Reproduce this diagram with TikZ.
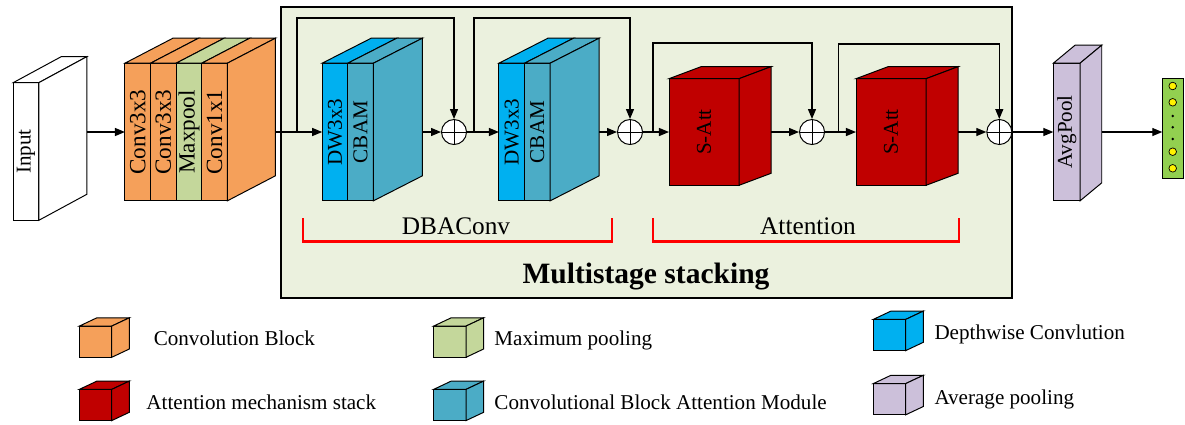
\documentclass[tikz,border=0pt]{standalone}
\usepackage{fontspec}
\setmainfont{Liberation Serif}
\usepackage{tikz}
\usetikzlibrary{arrows.meta,positioning,calc}

\definecolor{corange}{RGB}{245,160,90}
\definecolor{cgreen}{RGB}{196,215,155}
\definecolor{cblue}{RGB}{0,176,240}
\definecolor{cteal}{RGB}{75,172,198}
\definecolor{cred}{RGB}{192,0,0}
\definecolor{cpurple}{RGB}{204,192,218}
\definecolor{cstage}{RGB}{235,241,222}
\definecolor{cvec}{RGB}{146,208,80}

% top and side faces of a block whose front face is node #1
\newcommand{\topface}[4]{\filldraw[fill=#2] (#1.north west) -- ++(#3,#4) -- ($(#1.north east)+(#3,#4)$) -- (#1.north east) -- cycle;}
\newcommand{\sideface}[4]{\filldraw[fill=#2] (#1.north east) -- ++(#3,#4) -- ($(#1.south east)+(#3,#4)$) -- (#1.south east) -- cycle;
  \coordinate (#1-out) at ($(#1.east)+(#3,0)$);}

\begin{document}
\begin{tikzpicture}[
        x=0.025cm, y=-0.025cm,
        line width=0.7pt,
        >={Triangle[length=0.25cm,width=0.2cm]},
        every node/.style={font=\fontsize{15}{18}\selectfont},
        slab/.style={rectangle, draw, outer sep=0pt, inner sep=0pt, minimum width=0.64cm, minimum height=3.44cm},
        lbl/.style={rotate=90, inner sep=0pt},
        biglbl/.style={lbl, font=\fontsize{16.5}{19}\selectfont},
        satt/.style={rectangle, draw, fill=cred, outer sep=0pt, minimum width=1.75cm, minimum height=2.665cm},
        sumnode/.style={circle, draw, fill=white, minimum size=0.625cm, inner sep=0pt,
            path picture={\draw (path picture bounding box.north) -- (path picture bounding box.south)
                (path picture bounding box.west) -- (path picture bounding box.east);}},
        stagebox/.style={rectangle, draw, line width=1pt, fill=cstage, minimum width=18.275cm, minimum height=7.275cm},
        flow/.style={->, line width=0.9pt},
        bracket/.style={draw=red, line width=1.6pt},
        legcube/.style={rectangle, draw, outer sep=0pt, minimum width=0.81cm, minimum height=0.78cm},
        legtxt/.style={anchor=base west, inner sep=0pt},
        vecbox/.style={rectangle, draw, fill=cvec, outer sep=0pt, minimum width=0.52cm, minimum height=2.5cm},
        vcirc/.style={circle, draw, fill=yellow, line width=0.5pt, minimum size=0.19cm, inner sep=0pt},
        vdot/.style={circle, fill=black, minimum size=0.07cm, inner sep=0pt}
    ]
        \useasboundingbox (0,0) rectangle (1185,424);

        % Stage background
        \node[stagebox] (stage) at (646.5,152.5) {};

        % Input
        \node[slab, fill=white, label={[lbl]center:Input}] (in) at (26,151.5) {};
        \topface{in}{white}{48}{-26}
        \sideface{in}{white}{48}{-26}

        % Convolution block
        \node[slab, fill=corange, label={[biglbl]center:Conv3x3}] (c1) at (137.75,132) {};
        \node[slab, fill=corange, right=0pt of c1, label={[biglbl]center:Conv3x3}] (c2) {};
        \node[slab, fill=cgreen, right=0pt of c2, label={[biglbl]center:Maxpool}] (c3) {};
        \node[slab, fill=corange, right=0pt of c3, label={[biglbl]center:Conv1x1}] (c4) {};
        \topface{c1}{corange}{48}{-25}
        \topface{c2}{corange}{48}{-25}
        \topface{c3}{cgreen}{48}{-25}
        \topface{c4}{corange}{48}{-25}
        \sideface{c4}{corange}{48}{-25}

        % DBAConv blocks
        \node[slab, fill=cblue, label={[lbl]center:DW3x3}] (dw1a) at (335,132) {};
        \node[slab, fill=cteal, right=0pt of dw1a, label={[lbl]center:CBAM}] (dw1b) {};
        \topface{dw1a}{cblue}{49}{-25}
        \topface{dw1b}{cteal}{49}{-25}
        \sideface{dw1b}{cteal}{49}{-25}

        \node[slab, fill=cblue, label={[lbl]center:DW3x3}] (dw2a) at (511.75,132) {};
        \node[slab, fill=cteal, right=0pt of dw2a, label={[lbl]center:CBAM}] (dw2b) {};
        \topface{dw2a}{cblue}{49}{-25}
        \topface{dw2b}{cteal}{49}{-25}
        \sideface{dw2b}{cteal}{49}{-25}

        % Attention blocks
        \node[satt, label={[lbl]center:S-Att}] (sa1) at (704,132) {};
        \topface{sa1}{cred}{32}{-12}
        \sideface{sa1}{cred}{32}{-12}
        \node[satt, label={[lbl]center:S-Att}] (sa2) at (891,132) {};
        \topface{sa2}{cred}{32}{-12}
        \sideface{sa2}{cred}{32}{-12}

        % Sum nodes
        \node[sumnode] (s1) at (454,132) {};
        \node[sumnode] (s2) at (630,132) {};
        \node[sumnode] (s3) at (812,132) {};
        \node[sumnode] (s4) at (999.3,132) {};

        % AvgPool and output vector
        \node[slab, fill=cpurple, minimum width=0.667cm, label={[lbl]center:AvgPool}] (avg) at (1066.7,132) {};
        \topface{avg}{cpurple}{21.7}{-18}
        \sideface{avg}{cpurple}{21.7}{-18}

        \node[vecbox] (vec) at (1172.7,128.3) {};
        \node[vcirc] (v1) at (1172.7,86) {};
        \node[vcirc] (v2) at (1172.7,102.3) {};
        \node[vdot] (d1) at (1172.7,116) {};
        \node[vdot] (d2) at (1172.7,127.3) {};
        \node[vdot] (d3) at (1172.7,139) {};
        \node[vcirc] (v3) at (1172.7,151.7) {};
        \node[vcirc] (v4) at (1172.7,168.3) {};

        % Branch points
        \coordinate (br1) at (297,132);
        \coordinate (br2) at (474,132);
        \coordinate (br3) at (653,132);
        \coordinate (br4) at (838.7,132);

        % Connections
        \draw[flow] (c1.west -| in-out) -- (c1.west);
        \draw[flow] (c4-out) -- (dw1a.west);
        \draw[flow] (dw1b-out) -- (s1);
        \draw[flow] (s1) -- (dw2a.west);
        \draw[flow] (dw2b-out) -- (s2);
        \draw[flow] (s2) -- (sa1);
        \draw[flow] (sa1-out) -- (s3);
        \draw[flow] (s3) -- (sa2);
        \draw[flow] (sa2-out) -- (s4);
        \draw[flow] (s4) -- (avg);
        \draw[flow] (avg-out) -- (avg-out -| vec.west);

        \draw[flow] (br1) -- ++(0,-114) -| (s1.north);
        \draw[flow] (br2) -- ++(0,-114) -| (s2.north);
        \draw[flow] (br3) -- ++(0,-89) -| (s3.north);
        \draw[flow] (br4) -- ++(0,-88) -| (s4.north);

        % Brackets
        \draw[bracket] (303,218) -- (303,241.5) -- (611.7,241.5) -- (611.7,218);
        \node[font=\fontsize{18}{21}\selectfont, anchor=base] (dba) at (456,234.5) {DBAConv};
        \draw[bracket] (652.7,218) -- (652.7,241.5) -- (959.3,241.5) -- (959.3,218);
        \node[font=\fontsize{18}{21}\selectfont, anchor=base] (att) at (808,234) {Attention};
        \node[font=\fontsize{21}{24}\selectfont\bfseries, anchor=base] (stagetxt) at (646,283) {Multistage stacking};

        % Legend
        \node[legcube, fill=corange] (lc1) at (95.5,341.7) {};
        \topface{lc1}{corange}{17.6}{-8.3}
        \sideface{lc1}{corange}{17.6}{-8.3}
        \node[legtxt] (lt1) at (153.3,345.7) {Convolution Block};

        \node[legcube, fill=cred] (lc2) at (95.5,405) {};
        \topface{lc2}{cred}{17.6}{-8.3}
        \sideface{lc2}{cred}{17.6}{-8.3}
        \node[legtxt] (lt2) at (146,409.3) {Attention mechanism stack};

        \node[legcube, fill=cgreen] (lc3) at (449.8,341.7) {};
        \topface{lc3}{cgreen}{17.6}{-8.3}
        \sideface{lc3}{cgreen}{17.6}{-8.3}
        \node[legtxt] (lt3) at (494,345.7) {Maximum pooling};

        \node[legcube, fill=cteal] (lc4) at (449.8,405) {};
        \topface{lc4}{cteal}{17.6}{-8.3}
        \sideface{lc4}{cteal}{17.6}{-8.3}
        \node[legtxt] (lt4) at (494,409.3) {Convolutional Block Attention Module};

        \node[legcube, fill=cblue] (lc5) at (889.5,335) {};
        \topface{lc5}{cblue}{17.6}{-8.3}
        \sideface{lc5}{cblue}{17.6}{-8.3}
        \node[legtxt] (lt5) at (934,339) {Depthwise Convlution};

        \node[legcube, fill=cpurple] (lc6) at (889.5,399.2) {};
        \topface{lc6}{cpurple}{17.6}{-8.3}
        \sideface{lc6}{cpurple}{17.6}{-8.3}
        \node[legtxt] (lt6) at (934,404) {Average pooling};

    \end{tikzpicture}
\end{document}
